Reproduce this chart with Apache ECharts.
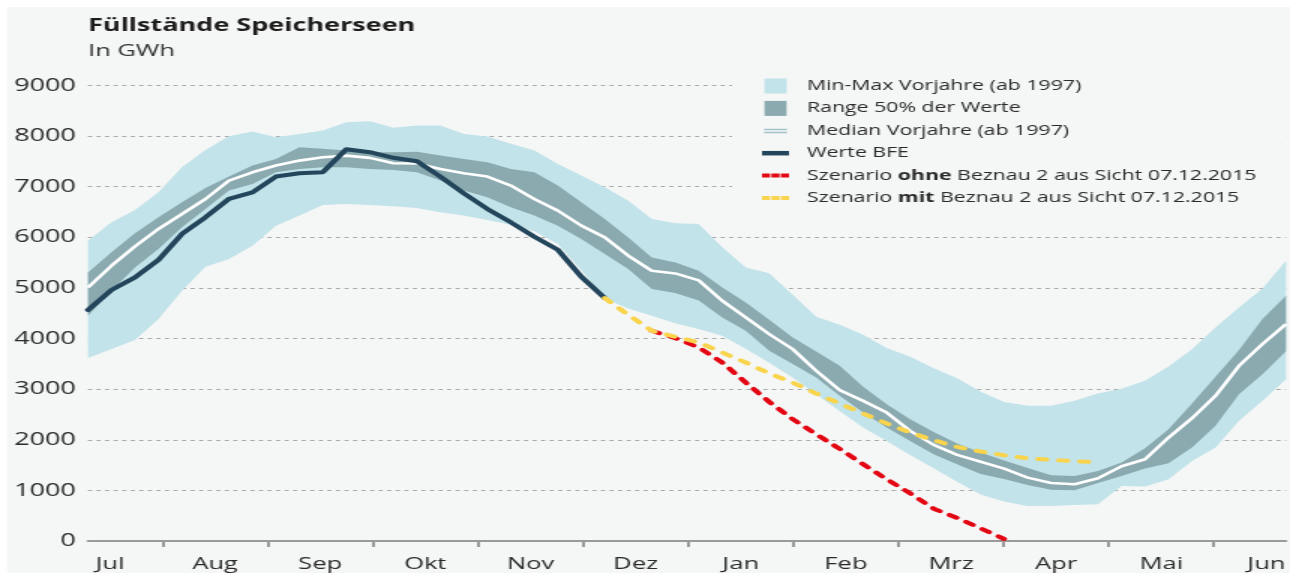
<!DOCTYPE html>
<html>
<head>
<meta charset="utf-8">
<script src="https://cdn.jsdelivr.net/npm/echarts@6/dist/echarts.min.js"></script>
<style>
html,body{margin:0;padding:0;background:#fff;overflow:hidden;width:1290px;height:573px}
#main{position:absolute;left:0;top:0;width:860px;height:573px;transform:scaleX(1.5);transform-origin:0 0}
</style>
</head>
<body>
<div id="main"></div>
<script>
// ---------------- data ----------------
const weeks = [0,1,2,3,4,5,6,7,8,9,10,11,12,13,14,15,16,17,18,19,20,21,22,23,24,25,
  26,27,28,29,30,31,32,33,34,35,36,37,38,39,40,41,42,43,44,45,46,47,48,49,50,51];
const monthLabels = ['Jul','Aug','Sep','Okt','Nov','Dez','Jan','Feb','Mrz','Apr','Mai','Jun'];
const yTickValues = [0,1000,2000,3000,4000,5000,6000,7000,8000,9000];

const minPrev = [3614,3792,3970,4385,4945,5420,5572,5835,6231,6429,6640,6660,6640,6613,6580,6494,6429,6343,6250,6118,
  5869,5350,4790,4595,4450,4300,4190,4055,3800,3520,3230,2902,2571,2241,1978,1701,1437,1173,920,780,
  690,692,712,725,1088,1075,1220,1582,1846,2374,2769,3198];
const maxPrev = [5934,6296,6541,6890,7384,7728,7997,8090,7978,8044,8110,8275,8294,8163,8209,8209,8044,7991,7847,7714,
  7451,7220,6988,6725,6363,6276,6264,5802,5406,5290,4866,4431,4272,4075,3811,3640,3415,3218,2950,2746,
  2673,2670,2769,2914,3007,3165,3448,3791,4220,4615,4991,5539];
const q25 = [4450,4945,5406,5770,6197,6561,6923,7055,7285,7352,7384,7384,7352,7332,7285,7121,6923,6791,6593,6429,
  6231,5967,5671,5374,4978,4900,4750,4417,4154,3758,3495,3230,2868,2538,2241,1978,1715,1517,1325,1226,
  1108,1015,1002,1147,1286,1431,1536,1846,2275,2901,3297,3750];
const q75 = [5307,5703,6079,6395,6692,6976,7200,7418,7549,7780,7748,7714,7681,7681,7690,7615,7549,7483,7352,7285,
  7022,6692,6363,5999,5604,5505,5341,5011,4714,4370,4022,3745,3462,3046,2704,2407,2156,1925,1747,1590,
  1440,1299,1286,1385,1549,1833,2209,2716,3244,3772,4385,4846];
const medianPrev = [5011,5440,5822,6165,6462,6758,7121,7285,7418,7516,7582,7615,7570,7463,7460,7352,7266,7200,7022,6758,
  6527,6231,5999,5637,5341,5287,5150,4747,4417,4088,3791,3363,2981,2769,2538,2176,1899,1701,1565,1430,
  1252,1147,1121,1240,1478,1615,2043,2427,2868,3462,3891,4286];
const bfeStartWeek = 0;
const bfe = [4564,4960,5209,5553,6067,6396,6760,6890,7201,7266,7286,7741,7682,7571,7504,7200,6870,6561,6296,6013,5756,5222,4800];
const ohneStartWeek = 24;
const ohne = [4154,4009,3824,3527,3132,2749,2407,2110,1820,1517,1220,943,639,455,251,40];
const mitStartWeek = 22;
const mit = [4800,4470,4154,4035,3923,3725,3527,3310,3132,2914,2716,2519,2321,2143,1991,1859,1767,1694,1635,1602,1576,1556];

const names = {
  minmax: 'Min-Max Vorjahre (ab 1997)',
  range: 'Range 50% der Werte',
  median: 'Median Vorjahre (ab 1997)',
  bfe: 'Werte BFE',
  ohne: 'Szenario ohne Beznau 2 aus Sicht 07.12.2015',
  mit: 'Szenario mit Beznau 2 aus Sicht 07.12.2015'
};

// ---------------- layout / style ----------------
const SX = 1.5;                 // horizontal stretch applied by CSS
const FONT = "'Open Sans', 'Noto Sans', sans-serif";
const C_BG = '#f5f6f6', C_LIGHT = '#c1e3e9', C_DARK = '#8aaab0', C_BFE = '#24465c',
      C_RED = '#e30613', C_YEL = '#f9d44c', C_TEXT = '#2a2a2a', C_AXIS = '#9a9a9a';
const plotLeftRef = 88, plotRightRef = 1289;
const weekPx = (plotRightRef - plotLeftRef) / (weeks.length - 1);
const monthStartRef = 162.7, monthWRef = 105.4;
const tickWeeks = [], labelWeeks = [];
for (let k = 0; k < 11; k++) tickWeeks.push((monthStartRef + monthWRef * k - plotLeftRef) / weekPx);
for (let k = 0; k < 12; k++) labelWeeks.push((monthStartRef - monthWRef / 2 + monthWRef * k - plotLeftRef) / weekPx);

// place a partial series on the full week grid (missing weeks stay empty)
function onWeeks(start, ys) { return weeks.map((w, i) => (i >= start && i < start + ys.length) ? ys[i - start] : null); }

const base = { type: 'line', symbol: 'none', silent: true, smooth: false, animation: false, xAxisIndex: 0 };

const legendRich = {
  sp: { width: 7 },
  b: { fontFamily: FONT, fontSize: 14.2, fontWeight: 'bold', color: C_TEXT, lineHeight: 15 }
};
const legendFmt = {};
legendFmt[names.minmax] = '{sp|}' + names.minmax;
legendFmt[names.range] = '{sp|}' + names.range;
legendFmt[names.median] = '{sp|}' + names.median;
legendFmt[names.bfe] = '{sp|}' + names.bfe;
legendFmt[names.ohne] = '{sp|}Szenario {b|ohne} Beznau 2 aus Sicht 07.12.2015';
legendFmt[names.mit] = '{sp|}Szenario {b|mit} Beznau 2 aus Sicht 07.12.2015';

const BOX = 'M0,0M18,15';
const option = {
  animation: false,
  backgroundColor: C_BG,
  textStyle: { fontFamily: FONT },
  graphic: [
    { type: 'rect', x: 0, y: 0, shape: { width: 860, height: 7 }, style: { fill: '#fff' }, z: 100, silent: true },
    { type: 'rect', x: 0, y: 0, shape: { width: 4.67, height: 573 }, style: { fill: '#fff' }, z: 100, silent: true }
  ],
  title: [
    { text: 'Füllstände Speicherseen', left: 58.67, top: 16.5, padding: 0,
      textStyle: { fontFamily: FONT, fontSize: 18, fontWeight: 'bold', color: '#1d1d1b', lineHeight: 18 } },
    { text: 'In GWh', left: 58.67, top: 42.5, padding: 0,
      textStyle: { fontFamily: FONT, fontSize: 17, fontWeight: 'normal', color: '#333', lineHeight: 17 } }
  ],
  legend: {
    orient: 'vertical', left: 488, top: 66.5, padding: [12, 20, 12, 20],
    backgroundColor: C_BG, itemWidth: 18, itemHeight: 15, itemGap: 7.4,
    selectedMode: false, symbolKeepAspect: true,
    textStyle: { fontFamily: FONT, fontSize: 14.2, color: C_TEXT, lineHeight: 15, rich: legendRich },
    formatter: (n) => legendFmt[n] || n,
    data: [
      { name: names.minmax, icon: 'path://' + BOX + 'M1.65,0h14.7v15h-14.7z', itemStyle: { color: C_LIGHT, borderWidth: 0 } },
      { name: names.range, icon: 'path://' + BOX + 'M1.65,0h14.7v15h-14.7z', itemStyle: { color: C_DARK, borderWidth: 0 } },
      { name: names.median, icon: 'path://' + BOX + 'M1.4,5.5h15.2v1.5h-15.2z M1.4,8.5h15.2v1.5h-15.2z', itemStyle: { color: '#a3c3cb', borderWidth: 0 } },
      { name: names.bfe, icon: 'path://' + BOX + 'M0,5.25h18v4.5h-18z', itemStyle: { color: C_BFE, borderWidth: 0 } },
      { name: names.ohne, icon: 'path://' + BOX + 'M0,5.5h5.4v4h-5.4z M6.3,5.5h5.4v4h-5.4z M12.6,5.5h5.4v4h-5.4z', itemStyle: { color: C_RED, borderWidth: 0 } },
      { name: names.mit, icon: 'path://' + BOX + 'M0,5.5h5.4v4h-5.4z M6.3,5.5h5.4v4h-5.4z M12.6,5.5h5.4v4h-5.4z', itemStyle: { color: C_YEL, borderWidth: 0 } }
    ]
  },
  grid: { left: plotLeftRef / SX, right: 860 - plotRightRef / SX, top: 85.5, bottom: 32, containLabel: false },
  xAxis: [
    { // week axis that carries the data
      type: 'category', data: weeks, boundaryGap: false, position: 'bottom',
      axisLine: { show: true, onZero: false, lineStyle: { color: C_AXIS, width: 2 } },
      axisTick: { show: false }, axisLabel: { show: false }, splitLine: { show: false }
    },
    { // same span in week units, used for month ticks and labels
      type: 'value', min: weeks[0], max: weeks[weeks.length - 1], position: 'bottom',
      axisLine: { show: false },
      axisTick: { show: true, customValues: tickWeeks, length: 6, lineStyle: { color: C_AXIS, width: 2 } },
      splitLine: { show: false },
      axisLabel: {
        customValues: labelWeeks, margin: 15,
        fontFamily: FONT, fontSize: 17, color: C_TEXT,
        formatter: (v) => {
          let best = 0, d = 1e9;
          labelWeeks.forEach((w, i) => { if (Math.abs(w - v) < d) { d = Math.abs(w - v); best = i; } });
          return monthLabels[best];
        }
      }
    }
  ],
  yAxis: {
    type: 'value', min: yTickValues[0], max: yTickValues[yTickValues.length - 1], interval: yTickValues[1] - yTickValues[0],
    axisLine: { show: false }, axisTick: { show: false },
    splitLine: { show: true, lineStyle: { color: '#a6a6a6', width: 1, type: [2.7, 3] } },
    axisLabel: { margin: 8, fontFamily: FONT, fontSize: 18, color: C_TEXT, formatter: (v) => String(v) }
  },
  series: [
    Object.assign({}, base, { name: 'minBase', stack: 'mm', data: minPrev.slice(),
      lineStyle: { width: 0, opacity: 0 }, z: 1 }),
    Object.assign({}, base, { name: names.minmax, stack: 'mm', data: maxPrev.map((v, i) => v - minPrev[i]),
      lineStyle: { width: 0, opacity: 0 }, itemStyle: { color: C_LIGHT }, areaStyle: { color: C_LIGHT, opacity: 1 }, z: 1 }),
    Object.assign({}, base, { name: 'q25Base', stack: 'iq', data: q25.slice(),
      lineStyle: { width: 0, opacity: 0 }, z: 2 }),
    Object.assign({}, base, { name: names.range, stack: 'iq', data: q75.map((v, i) => v - q25[i]),
      lineStyle: { width: 0, opacity: 0 }, itemStyle: { color: C_DARK }, areaStyle: { color: C_DARK, opacity: 1 }, z: 2 }),
    Object.assign({}, base, { name: names.median, data: medianPrev.slice(),
      itemStyle: { color: '#ffffff' }, lineStyle: { color: '#ffffff', width: 2.6, join: 'round' }, z: 3 }),
    Object.assign({}, base, { name: names.bfe, data: onWeeks(bfeStartWeek, bfe),
      itemStyle: { color: C_BFE }, lineStyle: { color: C_BFE, width: 4, join: 'round', cap: 'round' }, z: 4 }),
    Object.assign({}, base, { name: names.ohne, data: onWeeks(ohneStartWeek, ohne),
      itemStyle: { color: C_RED }, lineStyle: { color: C_RED, width: 4, type: [5.5, 7.5], cap: 'round', join: 'round' }, z: 5 }),
    Object.assign({}, base, { name: names.mit, data: onWeeks(mitStartWeek, mit),
      itemStyle: { color: C_YEL }, lineStyle: { color: C_YEL, width: 4, type: [5.5, 8.5], cap: 'round', join: 'round' }, z: 6 })
  ]
};

const chart = echarts.init(document.getElementById('main'), null, { renderer: 'canvas' });
chart.setOption(option);
</script>
</body>
</html>
